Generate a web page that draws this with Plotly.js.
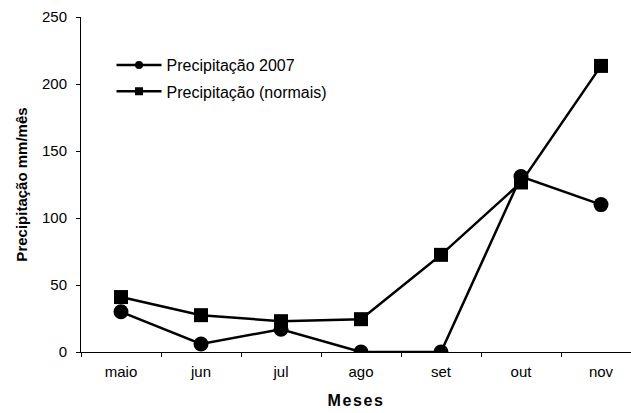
<!DOCTYPE html>
<html>
<head>
<meta charset="utf-8">
<script src="https://cdn.plot.ly/plotly-3.0.1.min.js"></script>
<style>html,body{margin:0;padding:0;background:#fff;overflow:hidden}
.xtitle{letter-spacing:1.6px}</style>
</head>
<body>
<div id="chart" style="width:631px;height:413px"></div>
<script>
const months = ["maio", "jun", "jul", "ago", "set", "out", "nov"];
const precip2007 = [30, 6, 17, 0, 0, 131, 110];
const precipNormais = [41, 27.5, 23, 24.5, 72.5, 126.5, 213.5];
const yTicks = [0, 50, 100, 150, 200, 250];

const lineStyle = {color: "#000", width: 2.5};
const traces = [
  {x: months, y: precip2007, type: "scatter", mode: "lines+markers",
   line: lineStyle, marker: {symbol: "circle", size: 15, color: "#000"},
   showlegend: false, legendgroup: "a"},
  {x: months, y: precipNormais, type: "scatter", mode: "lines+markers",
   line: lineStyle, marker: {symbol: "square", size: 14, color: "#000"},
   showlegend: false, legendgroup: "b"},
  {x: [null], y: [null], type: "scatter", mode: "lines+markers", name: "Precipitação 2007",
   line: lineStyle, marker: {symbol: "circle", size: 8, color: "#000"}, legendgroup: "a"},
  {x: [null], y: [null], type: "scatter", mode: "lines+markers", name: "Precipitação (normais)",
   line: lineStyle, marker: {symbol: "square", size: 8, color: "#000"}, legendgroup: "b"}
];

const layout = {
  width: 631, height: 413,
  margin: {l: 81, r: 0, t: 17, b: 61},
  paper_bgcolor: "#fff", plot_bgcolor: "#fff",
  font: {family: "Liberation Sans, Arial, sans-serif", color: "#000", size: 15},
  showlegend: true,
  legend: {x: 0.0555, y: 0.907, xanchor: "left", yanchor: "top", bgcolor: "rgba(0,0,0,0)",
           font: {size: 16, color: "#000"}, itemwidth: 45, tracegroupgap: 2.5},
  xaxis: {
    type: "category", categoryorder: "array", categoryarray: months,
    range: [-0.5, 6.375], autorange: false,
    showline: true, linecolor: "#000", linewidth: 1, mirror: false,
    showgrid: false, zeroline: false,
    ticks: "outside", tickson: "boundaries", ticklen: 4, tickcolor: "#000",
    ticklabelstandoff: 6,
    tickfont: {size: 15, color: "#000"},
    title: {text: "Meses", font: {size: 16, color: "#000", weight: "bold"}, standoff: 15}
  },
  yaxis: {
    range: [0, 250], autorange: false,
    tickvals: yTicks, ticktext: yTicks.map(String),
    showline: true, linecolor: "#000", linewidth: 1,
    showgrid: false, zeroline: false,
    ticks: "outside", ticklen: 4, tickcolor: "#000",
    ticklabelstandoff: 6,
    tickfont: {size: 15, color: "#000"},
    title: {text: "Precipitação mm/mês", font: {size: 15, color: "#000", weight: "bold"}, standoff: 10}
  }
};

Plotly.newPlot("chart", traces, layout, {displayModeBar: false, staticPlot: true});
</script>
</body>
</html>
